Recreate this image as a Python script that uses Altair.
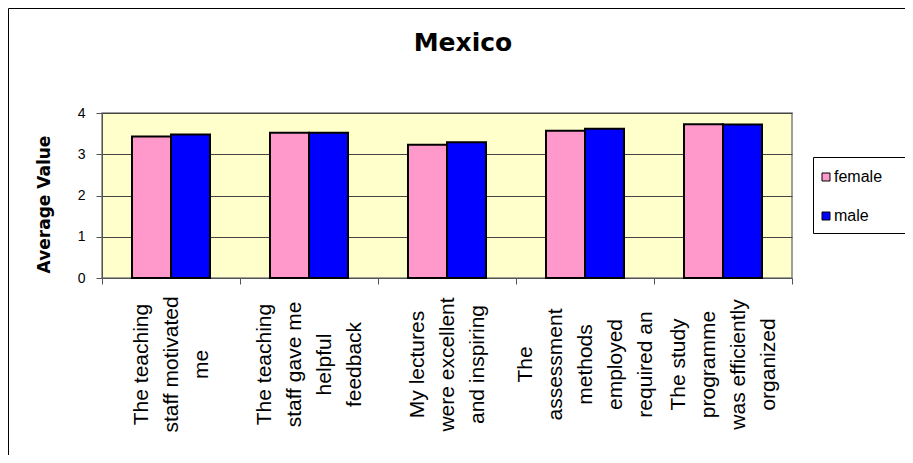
import altair as alt
import pandas as pd

questions = [
    "The teaching|staff motivated|me",
    "The teaching|staff gave me|helpful|feedback",
    "My lectures|were excellent|and inspiring",
    "The|assessment|methods|employed|required an",
    "The study|programme|was efficiently|organized",
]
genders = ["female", "male"]
female = [3.43, 3.52, 3.23, 3.57, 3.73]
male = [3.48, 3.52, 3.29, 3.62, 3.72]
colors = ["#FF99CC", "#0000FF"]

rows = []
for q, f, m in zip(questions, female, male):
    rows.append({"question": q, "gender": "female", "value": f})
    rows.append({"question": q, "gender": "male", "value": m})
df = pd.DataFrame(rows)
one = pd.DataFrame({"k": [0]})

W, H = 690, 165
LINE_H = 30

# shift multi-line rotated labels so that the block is centred on its band
offset_conditions = [
    {"test": f"length(split(datum.value, '|')) == {n}", "value": -(n - 1) * LINE_H / 2}
    for n in (2, 4, 5, 6)
]
label_offset = {"condition": offset_conditions, "value": -LINE_H}

frame = alt.Chart(one).mark_rect(fill=None, stroke="black", strokeWidth=1).encode(
    x=alt.value(-93.5), x2=alt.value(900), y=alt.value(-104.5), y2=alt.value(400)
)

legend_box = alt.Chart(one).mark_rect(fill="white", stroke="black", strokeWidth=1).encode(
    x=alt.value(711.5), x2=alt.value(830), y=alt.value(44.5), y2=alt.value(120.5)
)

bars = alt.Chart(df).mark_bar(stroke="black", strokeWidth=2, opacity=1).encode(
    x=alt.X(
        "question:N",
        sort=questions,
        scale=alt.Scale(paddingInner=0, paddingOuter=0),
        axis=alt.Axis(
            title=None,
            labelAngle=270,
            labelExpr="split(datum.label, '|')",
            labelLineHeight=LINE_H,
            labelAlign="center",
            labelBaseline="middle",
            labelPadding=80,
            labelOffset=label_offset,
            labelFont="Liberation Sans",
            labelFontSize=21,
            labelColor="black",
            labelLimit=400,
            labelOverlap=False,
            tickBand="extent",
            tickSize=6,
            tickColor="#555555",
            domainColor="#555555",
            grid=False,
        ),
    ),
    xOffset=alt.XOffset(
        "gender:N", sort=genders, scale=alt.Scale(paddingInner=0, paddingOuter=0.769)
    ),
    y=alt.Y(
        "value:Q",
        scale=alt.Scale(domain=[0, 4], nice=False),
        axis=alt.Axis(
            values=[0, 1, 2, 3, 4],
            format="d",
            title="Average Value",
            titleFont="DejaVu Sans",
            titleFontSize=17,
            titleFontWeight="bold",
            titleColor="black",
            titleAngle=270,
            titleAlign="center",
            titleBaseline="bottom",
            titleX=-49,
            titleY=91,
            labelFont="Liberation Sans",
            labelFontSize=14,
            labelColor="black",
            labelPadding=11,
            tickSize=6,
            tickColor="#555555",
            domainColor="#555555",
            gridColor="#444444",
            gridWidth=1,
        ),
    ),
    color=alt.Color(
        "gender:N",
        sort=genders,
        scale=alt.Scale(domain=genders, range=colors),
        legend=alt.Legend(
            title=None,
            orient="none",
            legendX=716,
            legendY=56,
            padding=0,
            symbolType="square",
            symbolSize=64,
            symbolStrokeColor="black",
            symbolStrokeWidth=1,
            symbolOpacity=1,
            labelFont="Liberation Sans",
            labelFontSize=16,
            labelColor="black",
            labelOffset=0,
            rowPadding=23,
        ),
    ),
)

chart = alt.layer(frame, legend_box, bars).properties(
    width=W,
    height=H,
    title=alt.TitleParams(
        "Mexico",
        font="DejaVu Sans",
        fontSize=25,
        fontWeight="bold",
        color="black",
        anchor="middle",
        frame="group",
        dx=16,
        baseline="alphabetic",
        offset=-68,
    ),
    padding={"left": 94, "top": 105, "right": 113, "bottom": 177},
    autosize=alt.AutoSizeParams(type="none"),
).configure_view(fill="#FFFFCC", stroke="#808080", strokeWidth=1.5)

chart.save("out.html", embed_options={"renderer": "svg", "actions": False})
